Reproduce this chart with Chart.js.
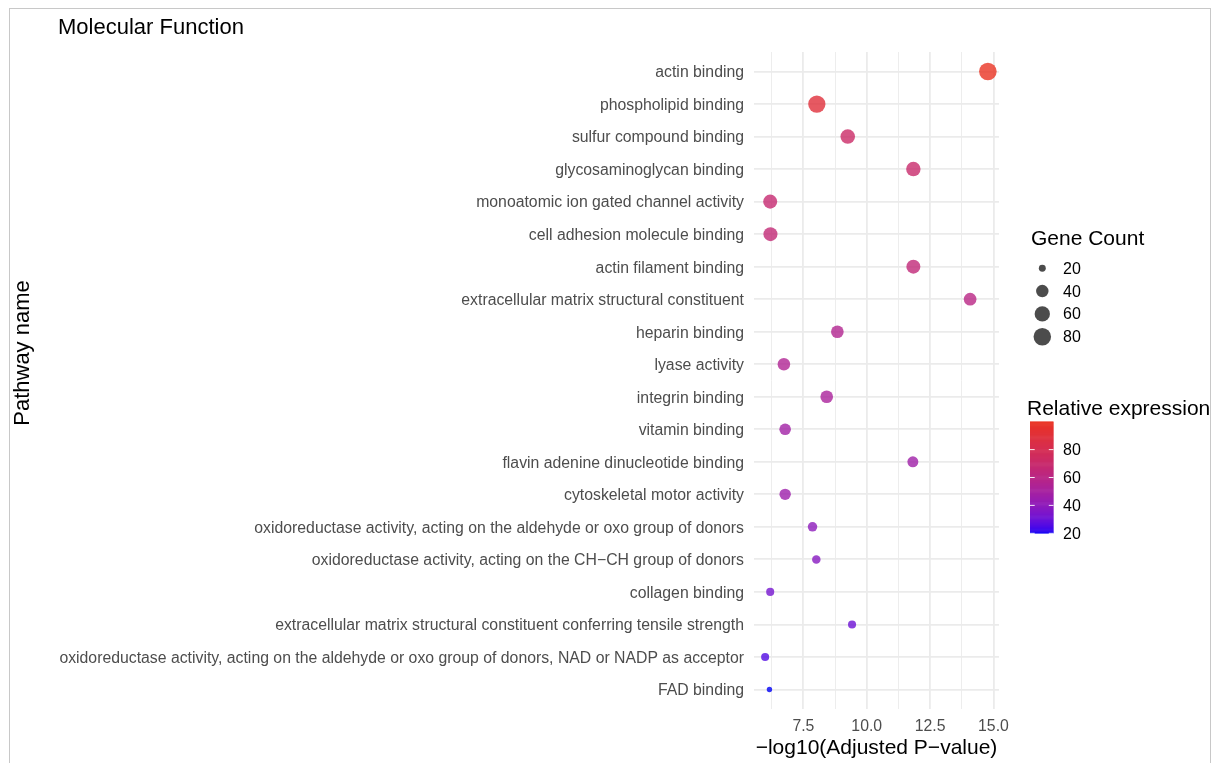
<!DOCTYPE html>
<html>
<head>
<meta charset="utf-8">
<script src="https://cdn.jsdelivr.net/npm/chart.js@4/dist/chart.umd.min.js"></script>
<style>
  html, body { margin: 0; padding: 0; background: #ffffff; overflow: hidden; }
  #wrap { position: absolute; left: 0; top: 0; width: 1211px; height: 763px; }
  #frame { position: absolute; left: 9px; top: 8px; width: 1200px; height: 800px;
           border-top: 1px solid #c8c8c8; border-left: 1px solid #c8c8c8; border-right: 1px solid #c8c8c8;
           pointer-events: none; }
</style>
</head>
<body>
<div id="wrap"><canvas id="c" width="1211" height="763"></canvas></div>
<div id="frame"></div>
<script>
// ---------------- data ----------------
const pathways = [
  "actin binding",
  "phospholipid binding",
  "sulfur compound binding",
  "glycosaminoglycan binding",
  "monoatomic ion gated channel activity",
  "cell adhesion molecule binding",
  "actin filament binding",
  "extracellular matrix structural constituent",
  "heparin binding",
  "lyase activity",
  "integrin binding",
  "vitamin binding",
  "flavin adenine dinucleotide binding",
  "cytoskeletal motor activity",
  "oxidoreductase activity, acting on the aldehyde or oxo group of donors",
  "oxidoreductase activity, acting on the CH\u2212CH group of donors",
  "collagen binding",
  "extracellular matrix structural constituent conferring tensile strength",
  "oxidoreductase activity, acting on the aldehyde or oxo group of donors, NAD or NADP as acceptor",
  "FAD binding"
];
const negLogP = [14.78, 8.03, 9.25, 11.84, 6.19, 6.20, 11.84, 14.08, 8.84, 6.73,
                 8.42, 6.78, 11.82, 6.78, 7.86, 8.01, 6.19, 9.42, 5.99, 6.16];
const geneCount = [81, 78, 54, 53, 50, 50, 50, 41, 41, 40,
                   41, 35, 32, 34, 26, 23, 22, 22, 22, 19];
const relExpr = [100, 90, 72, 70, 68, 66, 65, 60, 56, 55,
                 52, 48, 47, 46, 40, 38, 33, 31, 26, 20];
const sizeBreaks = [20, 40, 60, 80];
const colorBreaks = [20, 40, 60, 80];
const xMajorTicks = [7.5, 10, 12.5, 15];
const xMinorTicks = [6.25, 8.75, 11.25, 13.75];

const plotTitle = "Molecular Function";
const xTitle = "\u2212log10(Adjusted P\u2212value)";
const yTitle = "Pathway name";
const sizeTitle = "Gene Count";
const colorTitle = "Relative expression";

// ---------------- scales (ggplot-like) ----------------
const FONT = "'Liberation Sans', Arial, Helvetica, sans-serif";
const cMin = Math.min(...geneCount), cMax = Math.max(...geneCount);
const eMin = Math.min(...relExpr), eMax = Math.max(...relExpr);
const R_MIN = 2.7, R_MAX = 8.8;
function radiusFor(c) {
  const t = Math.max(0, Math.min(1, (c - cMin) / (cMax - cMin)));
  return R_MIN + (R_MAX - R_MIN) * Math.sqrt(t);
}
// Lab interpolation blue -> red, then shown through a P3-style screenshot conversion
function toLin(c) { return c <= 0.04045 ? c / 12.92 : Math.pow((c + 0.055) / 1.055, 2.4); }
function toEnc(c) { c = Math.max(0, Math.min(1, c)); return c <= 0.0031308 ? 12.92 * c : 1.055 * Math.pow(c, 1 / 2.4) - 0.055; }
const Xn = 0.95047, Yn = 1.0, Zn = 1.08883;
function fLab(t) { return t > Math.pow(6 / 29, 3) ? Math.cbrt(t) : t / (3 * Math.pow(6 / 29, 2)) + 4 / 29; }
function fInv(t) { return t > 6 / 29 ? t * t * t : 3 * Math.pow(6 / 29, 2) * (t - 4 / 29); }
function rgb2lab(r, g, b) {
  const R = toLin(r / 255), G = toLin(g / 255), B = toLin(b / 255);
  const X = 0.4124564 * R + 0.3575761 * G + 0.1804375 * B;
  const Y = 0.2126729 * R + 0.7151522 * G + 0.0721750 * B;
  const Z = 0.0193339 * R + 0.1191920 * G + 0.9503041 * B;
  const fx = fLab(X / Xn), fy = fLab(Y / Yn), fz = fLab(Z / Zn);
  return [116 * fy - 16, 500 * (fx - fy), 200 * (fy - fz)];
}
function lab2linrgb(L, a, b) {
  const fy = (L + 16) / 116, fx = fy + a / 500, fz = fy - b / 200;
  const X = Xn * fInv(fx), Y = Yn * fInv(fy), Z = Zn * fInv(fz);
  let R = 3.2404542 * X - 1.5371385 * Y - 0.4985314 * Z;
  let G = -0.9692660 * X + 1.8760108 * Y + 0.0415560 * Z;
  let B = 0.0556434 * X - 0.2040259 * Y + 1.0572252 * Z;
  R = toLin(toEnc(R)); G = toLin(toEnc(G)); B = toLin(toEnc(B));
  return [R, G, B];
}
const labLow = rgb2lab(0, 0, 255), labHigh = rgb2lab(255, 0, 0);
function colorFor(v, alpha) {
  const t = Math.max(0, Math.min(1, (v - eMin) / (eMax - eMin)));
  const L = labLow[0] + (labHigh[0] - labLow[0]) * t;
  const A = labLow[1] + (labHigh[1] - labLow[1]) * t;
  const B = labLow[2] + (labHigh[2] - labLow[2]) * t;
  const [r, g, b] = lab2linrgb(L, A, B);
  const pr = 0.8225 * r + 0.1774 * g;
  const pg = 0.0332 * r + 0.9669 * g;
  const pb = 0.0171 * r + 0.0724 * g + 0.9108 * b;
  const R8 = Math.round(toEnc(pr) * 255), G8 = Math.round(toEnc(pg) * 255), B8 = Math.round(toEnc(pb) * 255);
  return `rgba(${R8},${G8},${B8},${alpha})`;
}

const xLo = Math.min(...negLogP), xHi = Math.max(...negLogP);
const xPad = 0.05 * (xHi - xLo);

// ---------------- decorations plugin ----------------
const decor = {
  id: 'decor',
  afterDraw(chart) {
    const ctx = chart.ctx;
    const area = chart.chartArea;
    ctx.save();
    // plot title
    ctx.fillStyle = '#000000';
    ctx.font = `22px ${FONT}`;
    ctx.textAlign = 'left';
    ctx.textBaseline = 'alphabetic';
    ctx.fillText(plotTitle, 58, 34);
    // x title
    ctx.font = `21px ${FONT}`;
    ctx.textAlign = 'center';
    ctx.textBaseline = 'middle';
    ctx.fillText(xTitle, (area.left + area.right) / 2, 748);
    // y title
    ctx.save();
    ctx.font = `22px ${FONT}`;
    ctx.translate(23, 353);
    ctx.rotate(-Math.PI / 2);
    ctx.fillText(yTitle, 0, 0);
    ctx.restore();

    // size legend
    ctx.textAlign = 'left';
    ctx.textBaseline = 'alphabetic';
    ctx.font = `21px ${FONT}`;
    ctx.fillStyle = '#000000';
    ctx.fillText(sizeTitle, 1031, 245);
    const sizeY0 = 268.3, sizeStep = 22.8;
    sizeBreaks.forEach((b, i) => {
      const y = sizeY0 + i * sizeStep;
      ctx.beginPath();
      ctx.arc(1042.3, y, radiusFor(b), 0, Math.PI * 2);
      ctx.fillStyle = 'rgba(0,0,0,0.7)';
      ctx.fill();
      ctx.fillStyle = '#000000';
      ctx.font = `16px ${FONT}`;
      ctx.textBaseline = 'middle';
      ctx.fillText(String(b), 1063, y + 1);
    });

    // colour legend
    ctx.textBaseline = 'alphabetic';
    ctx.font = `21px ${FONT}`;
    ctx.fillStyle = '#000000';
    ctx.fillText(colorTitle, 1027, 415);
    const barL = 1030, barR = 1053.5, barT = 421.7, barB = 533.3;
    const steps = 120;
    for (let s = 0; s < steps; s++) {
      const v0 = eMin + (eMax - eMin) * s / steps;
      const y1 = barB - (barB - barT) * s / steps;
      const y0 = barB - (barB - barT) * (s + 1) / steps;
      ctx.fillStyle = colorFor(v0 + (eMax - eMin) / steps / 2, 1);
      ctx.fillRect(barL, y0 - 0.3, barR - barL, (y1 - y0) + 0.6);
    }
    const bw = barR - barL;
    colorBreaks.forEach((b) => {
      const y = barB - (barB - barT) * (b - eMin) / (eMax - eMin);
      ctx.strokeStyle = 'rgba(255,255,255,0.9)';
      ctx.lineWidth = 1;
      ctx.beginPath();
      ctx.moveTo(barL, y); ctx.lineTo(barL + bw / 5, y);
      ctx.moveTo(barR - bw / 5, y); ctx.lineTo(barR, y);
      ctx.stroke();
      ctx.fillStyle = '#000000';
      ctx.font = `16px ${FONT}`;
      ctx.textBaseline = 'middle';
      ctx.fillText(String(b), 1063, y + 1);
    });
    ctx.restore();
  }
};

// ---------------- chart ----------------
Chart.defaults.font.family = FONT;
const points = pathways.map((p, i) => ({ x: negLogP[i], y: i }));

new Chart(document.getElementById('c'), {
  type: 'scatter',
  data: {
    datasets: [{
      data: points,
      pointRadius: (ctx) => radiusFor(geneCount[ctx.dataIndex]),
      pointHoverRadius: (ctx) => radiusFor(geneCount[ctx.dataIndex]),
      pointBackgroundColor: (ctx) => colorFor(relExpr[ctx.dataIndex], 0.8),
      pointBorderWidth: 0,
      borderWidth: 0,
      clip: false
    }]
  },
  plugins: [decor],
  options: {
    responsive: false,
    animation: false,
    events: [],
    layout: { padding: { left: 0, top: 52, right: 212, bottom: 0 } },
    plugins: { legend: { display: false }, tooltip: { enabled: false }, title: { display: false } },
    scales: {
      x: {
        type: 'linear',
        min: xLo - xPad,
        max: xHi + xPad,
        afterBuildTicks: (scale) => {
          scale.ticks = [...xMinorTicks, ...xMajorTicks].sort((a, b) => a - b).map(v => ({ value: v }));
        },
        afterFit: (scale) => { scale.height = 54; },
        border: { display: false },
        grid: {
          drawTicks: false,
          color: '#EBEBEB',
          lineWidth: (ctx) => (ctx.tick && xMajorTicks.includes(ctx.tick.value)) ? 1.8 : 0.9
        },
        ticks: {
          autoSkip: false,
          maxRotation: 0,
          padding: 8,
          color: '#4D4D4D',
          font: { size: 15.8 },
          callback: (v) => xMajorTicks.includes(v) ? v.toFixed(1) : ''
        }
      },
      y: {
        type: 'linear',
        reverse: true,
        min: -0.6,
        max: pathways.length - 1 + 0.6,
        afterBuildTicks: (scale) => {
          scale.ticks = pathways.map((_, i) => ({ value: i }));
        },
        afterFit: (scale) => { scale.width = 754; },
        border: { display: false },
        grid: { drawTicks: false, color: '#EBEBEB', lineWidth: 1.8 },
        ticks: {
          autoSkip: false,
          padding: 10,
          labelOffset: 1.5,
          color: '#4D4D4D',
          font: { size: 15.8 },
          callback: (v) => pathways[v]
        }
      }
    }
  }
});
</script>
</body>
</html>
